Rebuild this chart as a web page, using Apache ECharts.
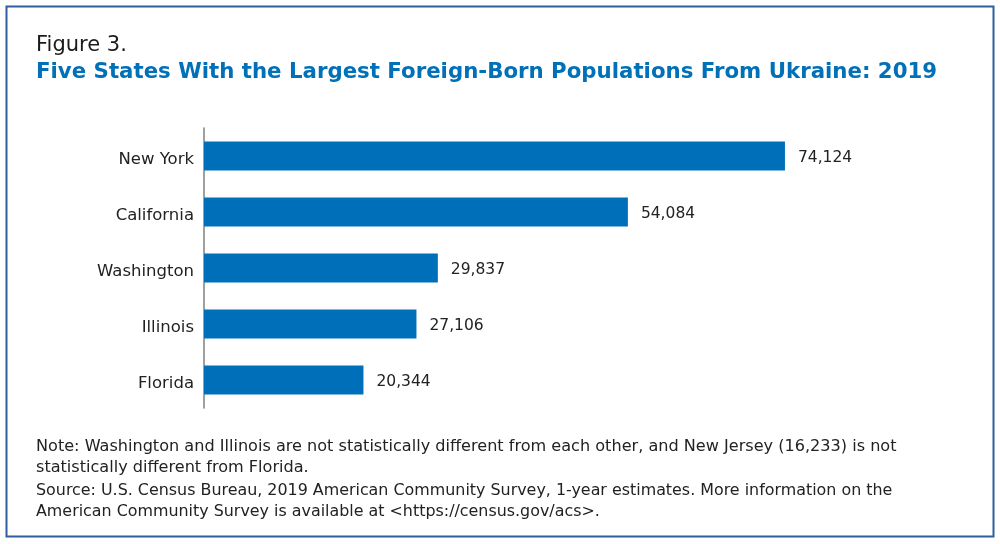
<!DOCTYPE html>
<html>
<head>
<meta charset="utf-8">
<script src="https://cdn.jsdelivr.net/npm/echarts@6/dist/echarts.min.js"></script>
<style>
  html, body { margin: 0; padding: 0; background: #fff; }
  #chart { width: 1000px; height: 544px; }
</style>
</head>
<body>
<div id="chart"></div>
<script>
	// Values
	var states = ['New York', 'California', 'Washington', 'Illinois', 'Florida'];
	var population = [74124, 54084, 29837, 27106, 20344];

	var figureLabel = 'Figure 3.';
	var figureTitle = 'Five States With the Largest Foreign-Born Populations From Ukraine: 2019';
	var noteLines = [
		'Note: Washington and Illinois are not statistically different from each other, and New Jersey (16,233) is not',
		'statistically different from Florida.'
	];
	var sourceLines = [
		'Source: U.S. Census Bureau, 2019 American Community Survey, 1-year estimates. More information on the',
		'American Community Survey is available at <https://census.gov/acs>.'
	];

	var chart = echarts.init( document.getElementById( 'chart' ) );

	var option = {
		animation: false,
		textStyle: { fontFamily: 'DejaVu Sans' },
		title: [
			{
				text: figureLabel,
				left: 31, top: 30,
				textStyle: { fontSize: 21, fontWeight: 'normal', color: '#1a1a1a', fontFamily: 'DejaVu Sans' }
			},
			{
				text: figureTitle,
				left: 31, top: 57,
				textStyle: { fontSize: 21.3, fontWeight: 'bold', color: '#0070b8', fontFamily: 'DejaVu Sans' }
			},
			{
				text: noteLines.join( '\n' ),
				left: 31, top: 431,
				textStyle: { fontSize: 16.1, fontWeight: 'normal', color: '#222', lineHeight: 21, fontFamily: 'DejaVu Sans' }
			},
			{
				text: sourceLines.join( '\n' ),
				left: 31, top: 475,
				textStyle: { fontSize: 15.9, fontWeight: 'normal', color: '#222', lineHeight: 21, fontFamily: 'DejaVu Sans' }
			}
		],
		graphic: [
			{
				type: 'rect',
				shape: { x: 6.5, y: 6.5, width: 987, height: 530 },
				style: { fill: 'none', stroke: '#2f5f9d', lineWidth: 2 },
				silent: true
			}
		],
		grid: {
			left: 204,
			top: 128,
			width: 627, // 80,000 at the same scale as the bars
			height: 280
		},
		xAxis: {
			type: 'value',
			min: 0,
			max: 80000,
			show: false
		},
		yAxis: {
			type: 'category',
			data: states,
			inverse: true,
			axisLine: { show: true, lineStyle: { color: '#808080', width: 1.5 } },
			axisTick: { show: false },
			axisLabel: {
				margin: 10,
				formatter: function ( v ) { return '{s|' + v + '}'; },
				rich: {
					s: { color: '#222', fontSize: 16.5, padding: [8, 0, 0, 0] }
				}
			}
		},
		series: [
			{
				type: 'bar',
				data: population,
				barWidth: '52%',
				itemStyle: { color: '#006fba' },
				label: {
					show: true,
					position: 'right',
					distance: 13,
					formatter: function ( p ) {
						return '{v|' + p.value.toLocaleString( 'en-US' ) + '}';
					},
					rich: {
						v: { color: '#222', fontSize: 15.5, padding: [4, 0, 0, 0] }
					}
				}
			}
		]
	};

	chart.setOption( option );
</script>
</body>
</html>
